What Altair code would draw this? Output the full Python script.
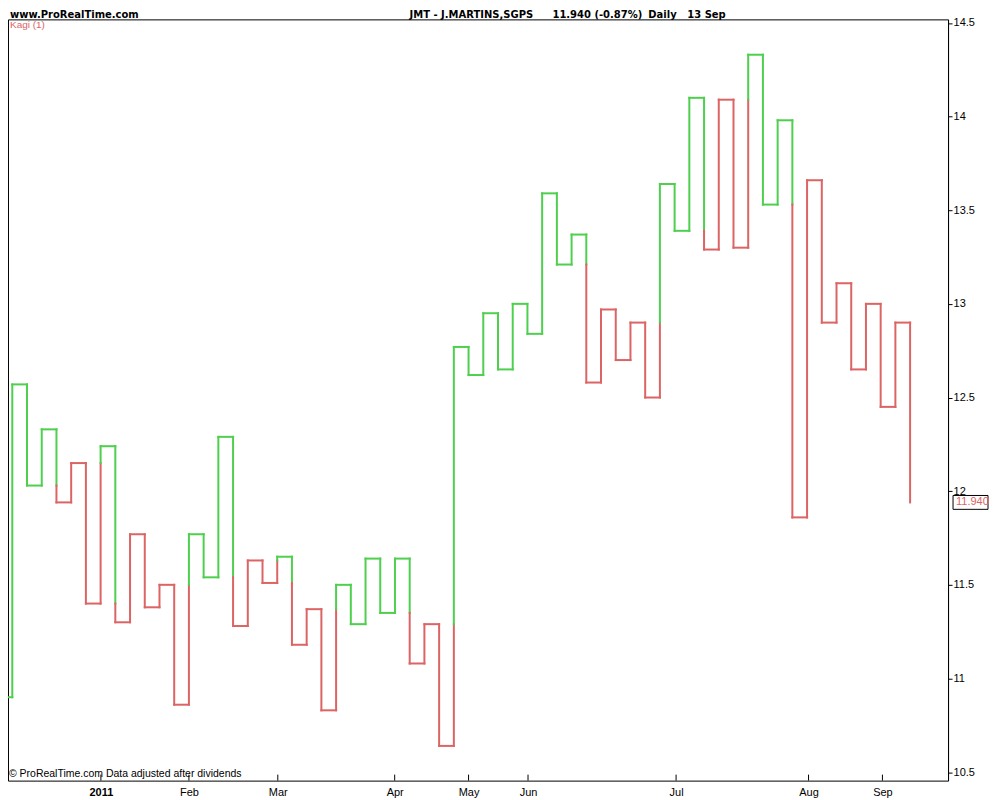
import altair as alt
import pandas as pd

# ---------------- data ----------------
# Kagi turning levels (price), in chart order
levels = [10.90, 12.57, 12.03, 12.33, 11.94, 12.15, 11.40, 12.24, 11.30, 11.77,
          11.38, 11.50, 10.86, 11.77, 11.54, 12.29, 11.28, 11.63, 11.51, 11.65,
          11.18, 11.37, 10.83, 11.50, 11.29, 11.64, 11.35, 11.64, 11.08, 11.29,
          10.64, 12.77, 12.62, 12.95, 12.65, 13.00, 12.84, 13.59, 13.21, 13.37,
          12.58, 12.97, 12.70, 12.90, 12.50, 13.64, 13.39, 14.10, 13.29, 14.09,
          13.30, 14.33, 13.53, 13.98, 11.86, 13.66, 12.90, 13.11, 12.65, 13.00,
          12.45, 12.90, 11.94]

# month tick positions (in Kagi column units) and labels
month_pos = [7.02, 13.0, 19.04, 26.98, 32.0, 36.04, 46.1, 55.1, 60.12]
month_lab = ["2011", "Feb", "Mar", "Apr", "May", "Jun", "Jul", "Aug", "Sep"]

y_ticks = [10.5, 11, 11.5, 12, 12.5, 13, 13.5, 14, 14.5]

GREEN = "#4ecf4e"
RED = "#dc6464"
FONT = "Liberation Sans"
HFONT = "DejaVu Sans"

X_DOMAIN = [0.708, 64.578]
Y_DOMAIN = [10.4547, 14.5187]
W, H = 941, 762

# ---------------- build Kagi segments (classic reversal colouring) ----------------
segs = []
state = "up"
last_high = None
last_low = None
segs.append(dict(x=X_DOMAIN[0], x2=1, y=levels[0], y2=levels[0], c=state))
for k in range(1, len(levels)):
    a, b = levels[k - 1], levels[k]
    if b > a:
        if state == "down" and last_high is not None and b > last_high:
            segs.append(dict(x=k, x2=k, y=a, y2=last_high, c="down"))
            segs.append(dict(x=k, x2=k, y=last_high, y2=b, c="up"))
            state = "up"
        else:
            segs.append(dict(x=k, x2=k, y=a, y2=b, c=state))
        last_high = b
    else:
        if state == "up" and last_low is not None and b < last_low:
            segs.append(dict(x=k, x2=k, y=a, y2=last_low, c="up"))
            segs.append(dict(x=k, x2=k, y=last_low, y2=b, c="down"))
            state = "down"
        else:
            segs.append(dict(x=k, x2=k, y=a, y2=b, c=state))
        last_low = b
    if k < len(levels) - 1:
        segs.append(dict(x=k, x2=k + 1, y=b, y2=b, c=state))

seg_df = pd.DataFrame(segs)
months_df = pd.DataFrame({"pos": month_pos, "lab": month_lab})

lab_arr = "[" + ",".join(f"'{l}'" for l in month_lab) + "]"
pos_arr = "[" + ",".join(repr(p) for p in month_pos) + "]"
label_expr = f"{lab_arr}[indexof({pos_arr}, datum.value)]"

x_enc = alt.X(
    "x:Q",
    scale=alt.Scale(domain=X_DOMAIN, nice=False, zero=False),
    axis=alt.Axis(
        values=month_pos,
        labelExpr=label_expr,
        orient="bottom",
        domain=False,
        ticks=False,
        grid=False,
        title=None,
        labelFont=FONT,
        labelFontSize=11,
        labelColor="black",
        labelPadding=6,
        labelFlush=False,
        labelOverlap=False,
        labelFontWeight={"condition": {"test": "datum.value < 8", "value": "bold"}, "value": "normal"},
    ),
)
y_enc = alt.Y(
    "y:Q",
    scale=alt.Scale(domain=Y_DOMAIN, nice=False, zero=False),
    axis=alt.Axis(
        orient="right",
        values=y_ticks,
        format="~g",
        grid=False,
        title=None,
        tickSize=4,
        tickColor="black",
        domainColor="black",
        labelFont=FONT,
        labelFontSize=11,
        labelColor="black",
        labelPadding=1,
        labelOverlap=False,
    ),
)

kagi = alt.Chart(seg_df).mark_rule(strokeWidth=2, strokeCap="square").encode(
    x=x_enc,
    x2="x2:Q",
    y=y_enc,
    y2="y2:Q",
    color=alt.Color("c:N", scale=alt.Scale(domain=["up", "down"], range=[GREEN, RED]), legend=None),
)

month_ticks = alt.Chart(months_df).mark_rule(color="black", strokeWidth=1).encode(
    x="pos:Q",
    y=alt.value(H - 6),
    y2=alt.value(H),
)


def txt(s, x, y, size=11, weight="normal", color="black", align="left",
        baseline="alphabetic", font=FONT):
    return alt.Chart(pd.DataFrame({"t": [s]})).mark_text(
        font=font, fontSize=size, fontWeight=weight, color=color,
        align=align, baseline=baseline,
    ).encode(text="t:N", x=alt.value(x), y=alt.value(y))


HY = -1.5
site = txt("www.ProRealTime.com", 2, HY, size=10, weight="bold", font=HFONT)
title1 = txt("JMT - J.MARTINS,SGPS", 402, HY, size=10, weight="bold", font=HFONT)
title2 = txt("11.940 (-0.87%)", 545, HY, size=10, weight="bold", font=HFONT)
title3 = txt("Daily", 641, HY, size=10, weight="bold", font=HFONT)
title4 = txt("13 Sep", 680, HY, size=10, weight="bold", font=HFONT)
kagi_lbl = txt("Kagi (1)", 2, 9, size=10, color=RED)
copy_lbl = txt("\u00a9 ProRealTime.com  Data adjusted after dividends", 1, H - 4, size=10.5)

last = levels[-1]
last_df = pd.DataFrame({"t": [f"{last:.3f}"]})
price_box = alt.Chart(last_df).mark_rect(fill="white", stroke="black", strokeWidth=1).encode(
    x=alt.value(946),
    x2=alt.value(981),
    y=alt.datum(last + 0.037),
    y2=alt.datum(last - 0.037),
)
price_txt = alt.Chart(last_df).mark_text(
    font=FONT, fontSize=11, color=RED, align="left", baseline="middle"
).encode(text="t:N", x=alt.value(949), y=alt.datum(last))

chart = alt.layer(
    kagi, month_ticks, site, title1, title2, title3, title4, kagi_lbl, copy_lbl, price_box, price_txt
).properties(
    width=W,
    height=H,
    padding={"left": 0, "top": 11, "right": 44, "bottom": 18},
    autosize=alt.AutoSizeParams(type="none"),
    background="white",
).configure_view(
    stroke="black", strokeWidth=1
)

chart.save("out.html", embed_options={"renderer": "svg", "actions": False})
